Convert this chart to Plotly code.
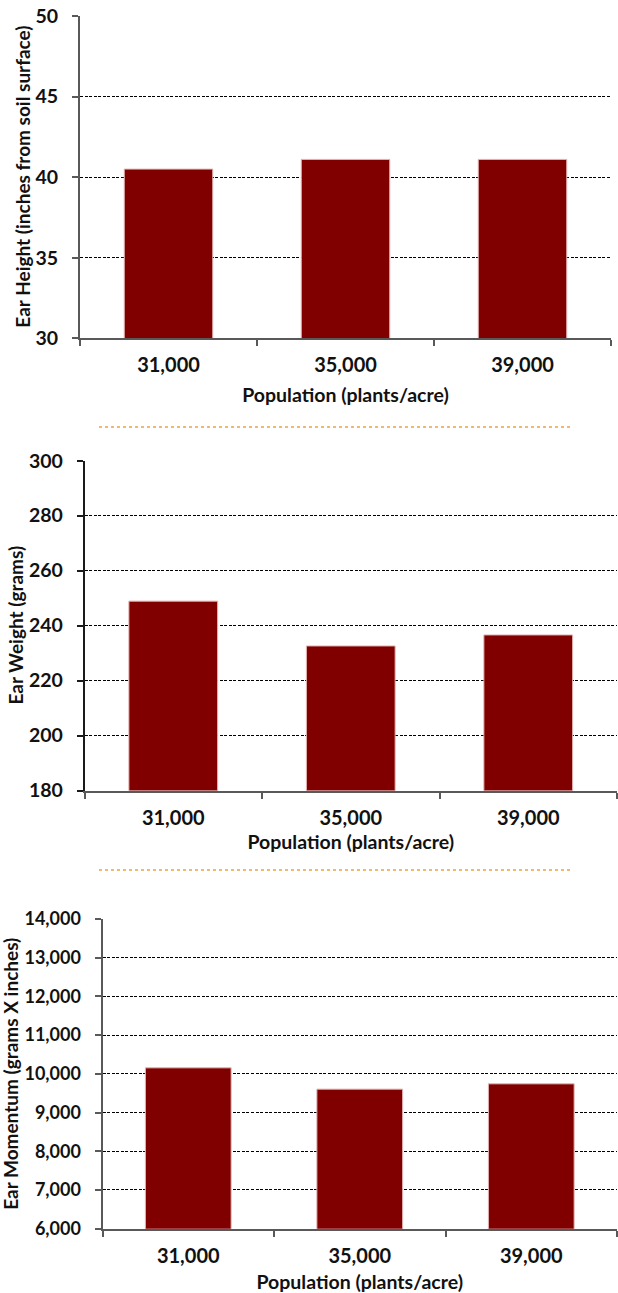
import plotly.graph_objects as go

# Plant population trial: ear traits by seeding rate
populations = ["31,000", "35,000", "39,000"]
ear_height = [40.5, 41.1, 41.1]          # inches from soil surface
ear_weight = [248.9, 232.6, 236.6]       # grams
ear_momentum = [10155, 9605, 9742]       # grams x inches

W, H = 618, 1293
BAR = "#800000"
FONT = "Lato"
INK = "#111111"
AXIS = "#595959"


def px_x(a, b):
    return [a / W, b / W]


def px_y(top, bottom):
    return [1 - bottom / H, 1 - top / H]


def bold(size):
    return dict(family=FONT, size=size, color=INK, weight="bold")


fig = go.Figure()

panels = [
    dict(y=ear_height, xdom=px_x(80, 611), ydom=px_y(16, 338.3),
         rng=[30, 50], dtick=5, fmt="", ytick=19.5, xstand=13,
         ytitle="Ear Height (inches from soil surface)", ytsize=19, ytx=22.5,
         ycolor=AXIS, ywidth=2),
    dict(y=ear_weight, xdom=px_x(84.5, 617), ydom=px_y(460.7, 790.5),
         rng=[180, 300], dtick=20, fmt="", ytick=19.5, xstand=8,
         ytitle="Ear Weight (grams)", ytsize=19, ytx=16,
         ycolor="#1a1a1a", ywidth=1.5),
    dict(y=ear_momentum, xdom=px_x(102.5, 617), ydom=px_y(919, 1228.7),
         rng=[6000, 14000], dtick=1000, fmt=",", ytick=18, xstand=15,
         ytitle="Ear Momentum (grams X inches)", ytsize=19, ytx=11,
         ycolor=AXIS, ywidth=2),
]

for i, p in enumerate(panels, start=1):
    sfx = "" if i == 1 else str(i)
    fig.add_trace(go.Bar(
        x=populations, y=p["y"], xaxis="x" + sfx, yaxis="y" + sfx,
        marker=dict(color=BAR, line=dict(color="#e3b5b5", width=1)),
        width=0.5, showlegend=False, hoverinfo="x+y",
    ))
    fig.layout["xaxis" + sfx] = dict(
        domain=p["xdom"], anchor="y" + sfx, type="category", automargin=False,
        showline=True, linecolor=AXIS, linewidth=2,
        ticks="outside", ticklen=6, tickcolor=AXIS, tickwidth=1.5,
        tickson="boundaries", showgrid=False, zeroline=False,
        tickfont=bold(20), ticklabelstandoff=8,
        title=dict(text="Population (plants/acre)", standoff=p["xstand"], font=bold(19.5)),
        fixedrange=True,
    )
    fig.layout["yaxis" + sfx] = dict(
        domain=p["ydom"], anchor="x" + sfx, range=p["rng"], dtick=p["dtick"],
        tickformat=p["fmt"], automargin=False,
        showline=True, linecolor=p["ycolor"], linewidth=p["ywidth"],
        ticks="outside", ticklen=6, tickcolor=p["ycolor"], tickwidth=1.5,
        showgrid=True, gridcolor="#000000", gridwidth=1, griddash="3px,1.5px",
        zeroline=False,
        tickfont=bold(p["ytick"]), ticklabelstandoff=10,
        fixedrange=True,
    )
    # vertical axis title, placed beside the tick labels
    d0, d1 = p["ydom"]
    fig.add_annotation(
        text=p["ytitle"], textangle=-90, showarrow=False,
        xref="paper", yref="paper", x=p["ytx"] / W, y=(d0 + d1) / 2,
        xanchor="center", yanchor="middle", font=bold(p["ytsize"]),
    )

# dotted orange rules between the panels
for y_px in (427, 870):
    fig.add_shape(type="line", xref="paper", yref="paper",
                  x0=99 / W, x1=573 / W, y0=1 - y_px / H, y1=1 - y_px / H,
                  line=dict(color="#f0a23a", width=1.5, dash="dot"))

fig.update_layout(
    width=W, height=H,
    margin=dict(l=0, r=0, t=0, b=0, autoexpand=False),
    paper_bgcolor="white", plot_bgcolor="white",
    bargap=0.5,
    font=dict(family=FONT, color=INK),
)

fig.write_html("out.html")
